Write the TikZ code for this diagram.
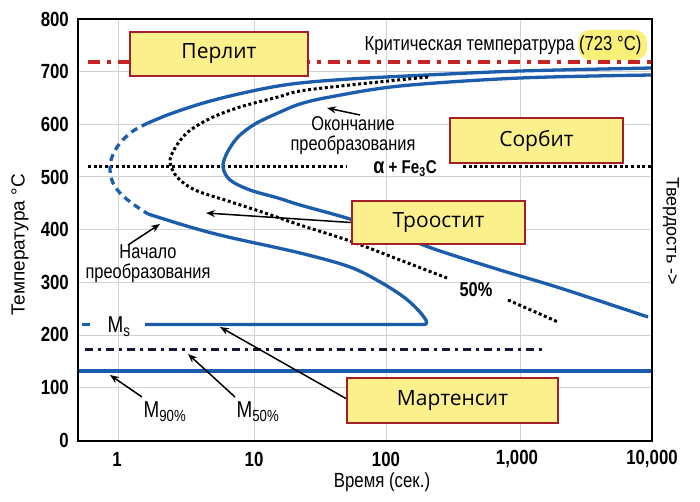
\documentclass[tikz,border=0pt]{standalone}
\usepackage{fontspec}
\setmainfont{Liberation Sans}
\newfontfamily\condf[FakeStretch=0.82]{Liberation Sans}
\newfontfamily\boxfont{Open Sans}
\usetikzlibrary{arrows.meta}
\definecolor{curveblue}{RGB}{28,92,172}
\definecolor{critred}{RGB}{200,35,35}
\definecolor{boxyellow}{RGB}{252,240,140}
\definecolor{boxred}{RGB}{165,30,40}
\definecolor{hlyellow}{RGB}{250,240,120}
\definecolor{navyline}{RGB}{20,25,55}
\begin{document}
\begin{tikzpicture}[x=1pt,y=-1pt,
  phase/.style={draw=boxred, fill=boxyellow, line width=2.2pt, inner sep=0pt,
    font=\boxfont\fontsize{21}{24}\selectfont},
  grid line/.style={draw=gray!35, line width=0.7pt},
  bluecurve/.style={draw=curveblue, line width=3.3pt},
  blackdots/.style={draw=black, line width=3pt, dash pattern=on 3pt off 2.6pt},
  arr/.style={draw=black, line width=1.5pt, -{Stealth[length=9pt,width=7pt]}},
  ticklab/.style={font=\condf\bfseries\fontsize{20.5}{22}\selectfont, inner sep=0pt},
  condlab/.style={font=\condf\fontsize{20}{20}\selectfont, inner sep=0pt, align=center},
  mlab/.style={font=\condf\fontsize{23}{24}\selectfont, inner sep=0pt}
]
\useasboundingbox (0,0) rectangle (700,502);
\fill[white] (0,0) rectangle (700,502);

% grid
\foreach \yy in {71,124,176,229,282,335,387} \draw[grid line] (78,\yy) -- (652,\yy);
\foreach \xx in {118,254,386,520} \draw[grid line] (\xx,19) -- (\xx,441);

% critical temperature line
\draw[critred, line width=3.2pt, dash pattern=on 12pt off 7pt on 4pt off 7pt] (88,62) -- (652,62);
\fill[hlyellow, rounded corners=12pt] (578,30) rectangle (647,60);
\node[font=\condf\fontsize{20.3}{22}\selectfont, inner sep=0pt] (crit) at (503,45) {Критическая температрура (723 °C)};

% 520 line
\draw[blackdots] (88,166.5) -- (347,166.5);
\draw[blackdots] (463,166.5) -- (652,166.5);
\node[font=\condf\bfseries\fontsize{18.5}{20}\selectfont, inner sep=0pt] (afe) at (405,169) {{\fontsize{22}{22}\selectfont α} + Fe\textsubscript{3}C};

% M50 dash-dot line
\draw[navyline, line width=2.8pt, dash pattern=on 8pt off 5pt on 3pt off 5pt] (85,349.5) -- (542,349.5);
% M90 line
\draw[bluecurve] (78,371) -- (652,371);
% Ms stub
\draw[bluecurve] (82,324.5) -- (90,324.5);

% start curve (outer)
\draw[bluecurve] plot[smooth,tension=0.55] coordinates {(652,68) (520,71) (427,75) (350,79) (300,83) (267,88) (230,96) (200,104) (170,114) (148,123)};
\draw[bluecurve, dash pattern=on 7pt off 5pt] plot[smooth,tension=0.55] coordinates {(148,123) (133,131) (120,143) (112,157) (110,170) (113,183) (121,194) (133,204) (148,214)};
\draw[bluecurve] plot[smooth,tension=0.55] coordinates {(148,214) (190,227) (228,237) (300,253) (350,267) (382,283) (405,298) (419,311) (426,320)}
  .. controls (428,325) and (425,324.5) .. (420,324.5) -- (145,324.5);

% end curve (inner)
\draw[bluecurve] plot[smooth,tension=0.55] coordinates {(652,75) (520,78) (400,86) (330,97) (300,104) (278,113) (255,124) (238,137) (227,153) (223,167) (230,180) (250,190) (278,198) (300,205) (350,219) (400,236) (437,250) (500,270) (560,288) (648,317)};

% 50% curve
\draw[blackdots] plot[smooth,tension=0.55] coordinates {(428,77) (350,85) (300,91) (278,97) (240,107) (211,118) (188,132) (175,148) (170,162) (177,177) (195,190) (228,201) (265,213) (300,225) (350,241) (400,260) (447,278)};
\draw[blackdots] (508,300) -- (558,322);
\node[font=\condf\bfseries\fontsize{20}{20}\selectfont, inner sep=0pt] (fifty) at (476,290) {50\%};

% phase boxes
\node[phase, minimum width=178pt, minimum height=44pt] (perlit) at (219,54) {Перлит};
\node[phase, minimum width=173pt, minimum height=45pt] (sorbit) at (536.5,140.5) {Сорбит};
\node[phase, minimum width=173pt, minimum height=43pt] (troostit) at (438.5,222.5) {Троостит};
\node[phase, minimum width=211pt, minimum height=45pt] (martensit) at (452.5,400.5) {Мартенсит};

% labels
\node[condlab] (okon) at (353,135.5) {Окончание\\преобразования};
\node[condlab] (nachalo) at (148,264) {Начало\\преобразования};
\node[mlab] (ms) at (119,327) {M\textsubscript{s}};
\node[mlab] (m90) at (165,412) {M\textsubscript{90\%}};
\node[mlab] (m50) at (258,412) {M\textsubscript{50\%}};

% arrow end points
\coordinate (okonTip) at (327,108);
\coordinate (okonTail) at (360,115);
\coordinate (nachTip) at (160,224);
\coordinate (nachTail) at (128,245);
\coordinate (trooTip) at (206,213);
\coordinate (msTip) at (220,327);
\coordinate (m90Tip) at (110,375);
\coordinate (m90Tail) at (142,397);
\coordinate (m50Tip) at (188,354);
\coordinate (m50Tail) at (235,397);

\draw[arr] (okonTail) -- (okonTip);
\draw[arr] (nachTail) -- (nachTip);
\draw[arr] (troostit.west) -- (trooTip);
\draw[arr] ([yshift=2pt]martensit.west) -- (msTip);
\draw[arr] (m90Tail) -- (m90Tip);
\draw[arr] (m50Tail) -- (m50Tip);

% frame
\draw[black, line width=2.6pt] (78,19) rectangle (652,441);

% ticks
\foreach \v/\yy in {0/440,100/387.4,200/334.8,300/282.2,400/229.6,500/177,600/124.4,700/71.8,800/19.2}
  \node[ticklab, anchor=east] (ty\v) at (69,\yy) {\v};
\node[ticklab] (tx1) at (117,459) {1};
\node[ticklab] (tx10) at (254,459) {10};
\node[ticklab] (tx100) at (386,459) {100};
\node[ticklab] (tx1000) at (517,459) {1,000};
\node[ticklab] (tx10000) at (652,459) {10,000};

% axis titles
\node[font=\condf\fontsize{20.5}{22}\selectfont, inner sep=0pt] (xlab) at (382,482) {Время (сек.)};
\node[font=\fontsize{19}{22}\selectfont, inner sep=0pt, rotate=90] (ylab) at (20,245) {Температура °C};
\node[font=\fontsize{18}{22}\selectfont, inner sep=0pt, rotate=-90] (hard) at (671,231) {Твердость ->};
\end{tikzpicture}
\end{document}
